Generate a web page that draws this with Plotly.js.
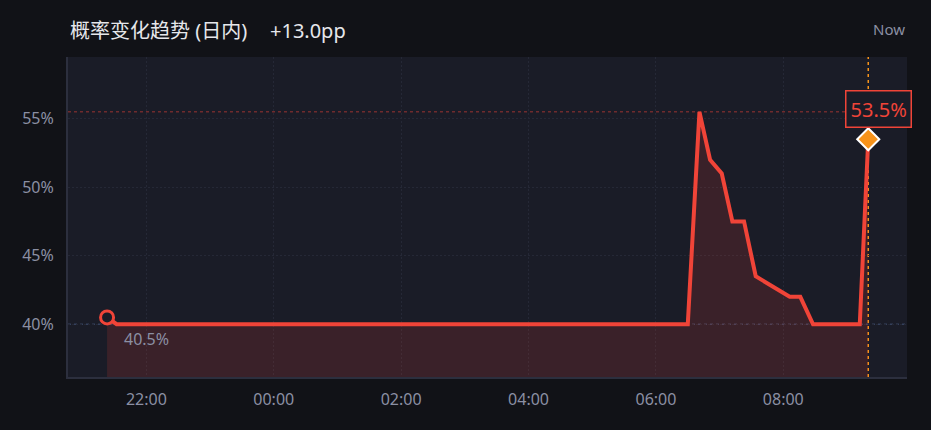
<!DOCTYPE html>
<html>
<head>
<meta charset="utf-8">
<script src="https://cdn.plot.ly/plotly-3.0.1.min.js"></script>
<style>
html,body{margin:0;padding:0;background:#111217;}
#chart{width:931px;height:430px;}
</style>
</head>
<body>
<div id="chart"></div>
<script>
// Data
const times = [
  '2024-01-01 21:23', '2024-01-01 21:32', '2024-01-02 06:30', '2024-01-02 06:41',
  '2024-01-02 06:51', '2024-01-02 07:02', '2024-01-02 07:12', '2024-01-02 07:23',
  '2024-01-02 07:34', '2024-01-02 08:06', '2024-01-02 08:16', '2024-01-02 08:28',
  '2024-01-02 09:12', '2024-01-02 09:20'
];
const values = [40.5, 40.0, 40.0, 55.5, 52.0, 51.0, 47.5, 47.5, 43.5, 42.0, 42.0, 40.0, 40.0, 53.5];
const yTicks = [40, 45, 50, 55];
const yTickLabels = ['40%', '45%', '50%', '55%'];
const titleText = '概率变化趋势 (日内)';
const changeText = '+13.0pp';
const nowText = 'Now';

const RED = '#f04438';
const ORANGE = '#f7931a';
const GREY = '#8b8fa3';
const FONT = '"Noto Sans", "Noto Sans CJK SC", sans-serif';

const first = 0, last = values.length - 1;
const maxV = Math.max(...values), minV = Math.min(...values);

const traces = [
  {
    x: times, y: values, type: 'scatter', mode: 'lines',
    line: {color: RED, width: 4},
    fill: 'tozeroy', fillcolor: 'rgba(240,68,56,0.15)',
    hoverinfo: 'skip'
  },
  {
    x: [times[first]], y: [values[first]], type: 'scatter', mode: 'markers',
    marker: {symbol: 'circle', size: 13, color: '#1a1c27', line: {color: RED, width: 3}},
    hoverinfo: 'skip'
  },
  {
    x: [times[last]], y: [values[last]], type: 'scatter', mode: 'markers',
    marker: {symbol: 'diamond', size: 17, color: ORANGE, line: {color: '#ffffff', width: 2}},
    hoverinfo: 'skip'
  }
];

const layout = {
  width: 931, height: 430,
  paper_bgcolor: '#111217', plot_bgcolor: '#1a1c27',
  margin: {l: 68, r: 24, t: 57, b: 53, pad: 0},
  showlegend: false,
  font: {family: FONT, color: GREY, size: 16},
  xaxis: {
    type: 'date',
    range: ['2024-01-01 20:46:12', '2024-01-02 09:56:30'],
    tick0: '2024-01-01 22:00', dtick: 2 * 3600 * 1000,
    tickformat: '%H:%M',
    showgrid: true, gridcolor: '#252836', griddash: '2px,2px', gridwidth: 1,
    showline: true, linecolor: '#2c2f3e', linewidth: 2,
    zeroline: false, ticks: '', ticklabelstandoff: 7,
    tickfont: {family: FONT, color: GREY, size: 16},
    fixedrange: true
  },
  yaxis: {
    range: [36.15, 59.5],
    tickvals: yTicks, ticktext: yTickLabels,
    showgrid: true, gridcolor: '#252836', griddash: '2px,2px', gridwidth: 1,
    showline: true, linecolor: '#2c2f3e', linewidth: 2,
    zeroline: false, ticks: '', ticklabelstandoff: 9,
    tickfont: {family: FONT, color: GREY, size: 16},
    fixedrange: true
  },
  shapes: [
    {type: 'line', xref: 'paper', x0: 0, x1: 1, yref: 'y', y0: maxV, y1: maxV,
     line: {color: 'rgba(240,68,56,0.4)', width: 1.5, dash: 'dot'}, layer: 'between'},
    {type: 'line', xref: 'paper', x0: 0, x1: 1, yref: 'y', y0: minV, y1: minV,
     line: {color: '#34405c', width: 1.5, dash: 'dot'}, layer: 'between'},
    {type: 'line', xref: 'x', x0: times[last], x1: times[last], yref: 'paper', y0: 0, y1: 1,
     line: {color: ORANGE, width: 1.5, dash: 'dot'}, layer: 'between'}
  ],
  annotations: [
    {text: titleText, xref: 'paper', x: 0, xanchor: 'left', yref: 'paper', y: 1, yanchor: 'bottom',
     yshift: 11, showarrow: false, font: {family: FONT, size: 20, color: '#e6e7eb'}},
    {text: changeText, xref: 'paper', x: 0.238, xanchor: 'left', yref: 'paper', y: 1, yanchor: 'bottom',
     yshift: 11, showarrow: false, font: {family: FONT, size: 20, color: '#e6e7eb'}},
    {text: nowText, xref: 'paper', x: 1, xanchor: 'right', yref: 'paper', y: 1, yanchor: 'bottom',
     yshift: 16, showarrow: false, font: {family: FONT, size: 15, color: GREY}},
    {text: values[last].toFixed(1) + '%', xref: 'x', x: times[last], yref: 'y', y: values[last],
     xanchor: 'center', yanchor: 'middle', xshift: 10, yshift: 30, showarrow: false,
     bgcolor: '#1a1c27', bordercolor: RED, borderwidth: 1.5, borderpad: 4,
     font: {family: FONT, size: 20, color: RED}},
    {text: values[first].toFixed(1) + '%', xref: 'x', x: times[first], yref: 'y', y: values[first],
     xanchor: 'left', yanchor: 'middle', xshift: 15, yshift: -22, showarrow: false,
     font: {family: FONT, size: 16, color: GREY}}
  ]
};

Plotly.newPlot('chart', traces, layout, {staticPlot: true, displayModeBar: false});
</script>
</body>
</html>
